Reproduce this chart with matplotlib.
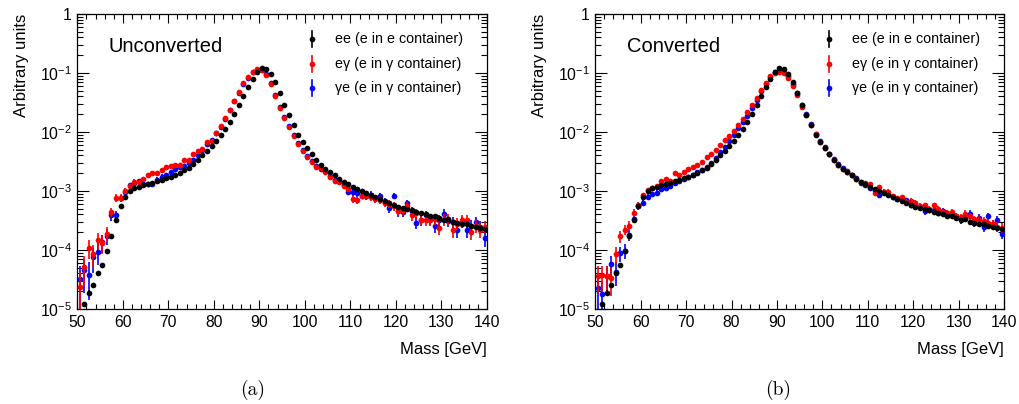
import numpy as np
import matplotlib
matplotlib.use("Agg")
import matplotlib.pyplot as plt
from matplotlib.ticker import FixedLocator, MultipleLocator, FuncFormatter, NullFormatter

plt.rcParams['font.family'] = ['Liberation Sans', 'DejaVu Sans']
plt.rcParams['mathtext.fontset'] = 'custom'
plt.rcParams['mathtext.rm'] = 'Liberation Sans'
plt.rcParams['mathtext.it'] = 'Liberation Sans:italic'
plt.rcParams['mathtext.bf'] = 'Liberation Sans:bold'

# 1 GeV bins from 50 to 140 GeV
bin_edges = np.arange(50, 141, 1)
mass = 0.5 * (bin_edges[:-1] + bin_edges[1:])

nan = np.nan

# ee reference sample (e in e container), identical in both panels
ee = [
    nan, 1.2e-5, 1.9e-5, 2.6e-5, 4.0e-5, 5.5e-5, 9.6e-5, 1.7e-4, 3.2e-4, 5.6e-4,
    7.8e-4, 1.0e-3, 1.12e-3, 1.18e-3, 1.24e-3, 1.3e-3, 1.35e-3, 1.45e-3, 1.55e-3, 1.65e-3,
    1.75e-3, 1.9e-3, 2.0e-3, 2.25e-3, 2.5e-3, 2.9e-3, 3.4e-3, 4.0e-3, 4.8e-3, 5.9e-3,
    7.0e-3, 8.8e-3, 1.13e-2, 1.48e-2, 2.05e-2, 2.9e-2, 4.1e-2, 5.8e-2, 8.0e-2, 0.106,
    0.123, 0.118, 0.097, 0.070, 0.045, 0.029, 0.0195, 0.0132, 9.0e-3, 6.9e-3,
    5.3e-3, 4.2e-3, 3.3e-3, 2.8e-3, 2.4e-3, 2.1e-3, 1.85e-3, 1.62e-3, 1.42e-3, 1.3e-3,
    1.18e-3, 1.08e-3, 1.0e-3, 9.2e-4, 8.6e-4, 8.0e-4, 7.3e-4, 6.8e-4, 6.2e-4, 5.7e-4,
    5.3e-4, 5.1e-4, 4.9e-4, 4.7e-4, 4.4e-4, 4.2e-4, 4.05e-4, 3.7e-4, 3.8e-4, 3.45e-4,
    3.2e-4, 3.3e-4, 3.0e-4, 2.9e-4, 2.8e-4, 2.75e-4, 2.6e-4, 2.5e-4, 2.35e-4, 2.3e-4,
]

# unconverted photon candidates
eg_unconv = [
    2.4e-5, 5.2e-5, 1.1e-4, 8.7e-5, 1.5e-4, 1.3e-4, 1.9e-4, 4.4e-4, 7.7e-4, 7.7e-4,
    1.0e-3, 1.2e-3, 1.44e-3, 1.4e-3, 1.58e-3, 1.85e-3, 2.0e-3, 2.0e-3, 2.3e-3, 2.6e-3,
    2.7e-3, 2.8e-3, 2.8e-3, 3.3e-3, 3.4e-3, 4.2e-3, 4.8e-3, 5.2e-3, 6.7e-3, 7.1e-3,
    9.8e-3, 1.25e-2, 1.7e-2, 2.4e-2, 3.4e-2, 4.7e-2, 6.7e-2, 8.4e-2, 0.105, 0.115,
    0.112, 0.094, 0.066, 0.041, 0.026, 0.017, 0.0123, 8.6e-3, 6.2e-3, 4.7e-3,
    3.8e-3, 3.1e-3, 2.6e-3, 2.45e-3, 2.1e-3, 1.75e-3, 1.5e-3, 1.42e-3, 1.2e-3, 1.1e-3,
    7.3e-4, 7.0e-4, 8.3e-4, 8.3e-4, 7.8e-4, 7.3e-4, 7.1e-4, 6.3e-4, 6.1e-4, 5.5e-4,
    4.6e-4, 4.7e-4, 5.5e-4, 3.9e-4, 4.2e-4, 3.2e-4, 3.2e-4, 3.2e-4, 3.4e-4, 2.4e-4,
    3.3e-4, 3.3e-4, 2.2e-4, 2.8e-4, 3.2e-4, 3.2e-4, 2.0e-4, 2.6e-4, 2.2e-4, 2.5e-4,
]
ge_unconv = [
    3.2e-5, 4.5e-5, 3.8e-5, 7.5e-5, 9.3e-5, 1.35e-4, 1.75e-4, 3.9e-4, 3.9e-4, 7.5e-4,
    9.5e-4, 1.25e-3, 1.35e-3, 1.45e-3, 1.3e-3, 1.3e-3, 1.3e-3, 1.55e-3, 1.75e-3, 1.85e-3,
    2.1e-3, 2.35e-3, 2.55e-3, 2.65e-3, 2.95e-3, 3.4e-3, 4.1e-3, 5.0e-3, 6.3e-3, 7.3e-3,
    9.5e-3, 1.22e-2, 1.65e-2, 2.35e-2, 3.3e-2, 4.6e-2, 6.5e-2, 8.2e-2, 0.104, 0.114,
    0.113, 0.097, 0.068, 0.043, 0.027, 0.018, 0.0128, 8.8e-3, 6.4e-3, 4.9e-3,
    3.9e-3, 3.2e-3, 2.7e-3, 2.4e-3, 2.15e-3, 1.8e-3, 1.55e-3, 1.45e-3, 1.25e-3, 9.8e-4,
    9.5e-4, 9.2e-4, 8.3e-4, 8.1e-4, 8.7e-4, 7.6e-4, 8.1e-4, 6.6e-4, 5.1e-4, 8.3e-4,
    4.5e-4, 4.4e-4, 6.2e-4, 4.5e-4, 2.9e-4, 3.2e-4, 3.9e-4, 3.4e-4, 2.6e-4, 3.2e-4,
    4.1e-4, 3.1e-4, 3.0e-4, 2.2e-4, 3.0e-4, 2.2e-4, 2.6e-4, 3.0e-4, 2.5e-4, 1.6e-4,
]

# converted photon candidates
eg_conv = [
    3.6e-5, 3.7e-5, 3.6e-5, 3.3e-5, 8.7e-5, 1.7e-4, 2.2e-4, 2.6e-4, 4.3e-4, 5.8e-4,
    8.5e-4, 1.02e-3, 1.12e-3, 1.2e-3, 1.5e-3, 1.6e-3, 1.5e-3, 2.0e-3, 1.9e-3, 2.1e-3,
    2.4e-3, 2.6e-3, 2.75e-3, 3.1e-3, 3.8e-3, 4.3e-3, 5.0e-3, 6.0e-3, 7.3e-3, 8.7e-3,
    1.04e-2, 1.3e-2, 1.66e-2, 2.2e-2, 2.9e-2, 3.8e-2, 5.2e-2, 6.8e-2, 8.8e-2, 0.100,
    0.104, 0.100, 0.082, 0.060, 0.043, 0.027, 0.0195, 0.0132, 9.1e-3, 6.8e-3,
    5.3e-3, 4.2e-3, 3.4e-3, 2.8e-3, 2.4e-3, 2.1e-3, 1.87e-3, 1.6e-3, 1.44e-3, 1.35e-3,
    1.3e-3, 9.4e-4, 1.15e-3, 9.5e-4, 9.8e-4, 8.2e-4, 7.6e-4, 7.9e-4, 6.6e-4, 6.9e-4,
    6.2e-4, 5.6e-4, 5.7e-4, 5.0e-4, 5.7e-4, 4.9e-4, 4.4e-4, 4.2e-4, 4.4e-4, 3.7e-4,
    3.6e-4, 4.1e-4, 3.7e-4, 3.3e-4, 3.2e-4, 3.1e-4, 2.9e-4, 2.8e-4, 2.5e-4, 2.4e-4,
]
ge_conv = [
    2.3e-5, 1.8e-5, 3.6e-5, 5.7e-5, 4.3e-5, 8.8e-5, 9.8e-5, 1.8e-4, 3.4e-4, 5.5e-4,
    6.3e-4, 8.0e-4, 8.8e-4, 9.4e-4, 1.1e-3, 1.12e-3, 1.2e-3, 1.35e-3, 1.5e-3, 1.6e-3,
    1.75e-3, 1.9e-3, 2.1e-3, 2.3e-3, 2.6e-3, 3.0e-3, 3.6e-3, 4.5e-3, 5.6e-3, 7.0e-3,
    9.0e-3, 1.15e-2, 1.45e-2, 1.9e-2, 2.6e-2, 3.5e-2, 4.9e-2, 6.6e-2, 8.6e-2, 0.103,
    0.108, 0.104, 0.090, 0.065, 0.045, 0.029, 0.0198, 0.0135, 9.4e-3, 7.1e-3,
    5.5e-3, 4.3e-3, 3.5e-3, 2.9e-3, 2.5e-3, 2.2e-3, 1.9e-3, 1.65e-3, 1.35e-3, 1.25e-3,
    1.12e-3, 1.05e-3, 8.6e-4, 9.8e-4, 8.8e-4, 8.0e-4, 7.4e-4, 7.1e-4, 7.0e-4, 5.8e-4,
    6.3e-4, 5.4e-4, 4.5e-4, 4.8e-4, 4.8e-4, 4.3e-4, 4.5e-4, 4.2e-4, 3.9e-4, 3.7e-4,
    3.3e-4, 3.5e-4, 4.1e-4, 2.9e-4, 3.5e-4, 2.5e-4, 3.7e-4, 2.8e-4, 3.2e-4, 1.9e-4,
]

# normalisation weight per event of each sample (sets the Poisson error bars)
w_ee = 1.5e-7
w_unconv = 1.5e-5
w_conv = 8.0e-6

series_labels = ["ee (e in e container)",
                 "e\u03b3 (e in \u03b3 container)",
                 "\u03b3e (e in \u03b3 container)"]
series_colors = ["#000000", "#ff0000", "#0000ff"]
panel_titles = ["Unconverted", "Converted"]
panel_tags = ["(a)", "(b)"]
xticks = [50, 60, 70, 80, 90, 100, 110, 120, 130, 140]
ydecades = [1e-5, 1e-4, 1e-3, 1e-2, 1e-1, 1]

W, H = 1020, 404
fig = plt.figure(figsize=(W / 100, H / 100), dpi=100)


def px_box(x0, x1, y0, y1):
    return [x0 / W, 1 - y1 / H, (x1 - x0) / W, (y1 - y0) / H]


axes = [fig.add_axes(px_box(77.3, 487.0, 14, 309)),
        fig.add_axes(px_box(595.3, 1004.0, 14, 309))]
tag_centres = [253, 778]


def poisson_bars(vals, w):
    v = np.asarray(vals, dtype=float)
    err = np.sqrt(v * w)
    lower = np.where(err >= v, v - 1e-9, err)
    return v, np.vstack([lower, err])


def ylabel_fmt(val, pos):
    if abs(val - 1) < 1e-9:
        return "1"
    return r"$\mathregular{10^{%d}}$" % int(round(np.log10(val)))


panel_data = [
    [(ee, w_ee), (eg_unconv, w_unconv), (ge_unconv, w_unconv)],
    [(ee, w_ee), (eg_conv, w_conv), (ge_conv, w_conv)],
]

MS = 4.1
ELW = 1.2

for ax, series, title, tag, tx in zip(axes, panel_data, panel_titles,
                                      panel_tags, tag_centres):
    # draw blue first, black on top
    for idx in [2, 1, 0]:
        vals, w = series[idx]
        v, yerr = poisson_bars(vals, w)
        ax.errorbar(mass, v, yerr=yerr, fmt='o', color=series_colors[idx],
                    ecolor=series_colors[idx], markersize=MS, elinewidth=ELW,
                    capsize=0, markeredgewidth=0, zorder=3 + (2 - idx))

    ax.set_yscale('log')
    ax.set_xlim(50, 140)
    ax.set_ylim(1e-5, 1)
    ax.xaxis.set_major_locator(FixedLocator(xticks))
    ax.xaxis.set_minor_locator(MultipleLocator(2))
    ax.yaxis.set_major_locator(FixedLocator(ydecades))
    minors = [m * 10.0 ** e for e in range(-5, 0) for m in range(2, 10)]
    ax.yaxis.set_minor_locator(FixedLocator(minors))
    ax.yaxis.set_major_formatter(FuncFormatter(ylabel_fmt))
    ax.yaxis.set_minor_formatter(NullFormatter())
    ax.tick_params(which='both', direction='in', top=True, right=True,
                   labelsize=11.3, width=0.8)
    ax.tick_params(axis='x', which='major', length=6.5, pad=4)
    ax.tick_params(axis='x', which='minor', length=3.3)
    ax.tick_params(axis='y', which='major', length=8.5, pad=4)
    ax.tick_params(axis='y', which='minor', length=4.3)
    for sp in ax.spines.values():
        sp.set_linewidth(0.9)

    ax.text(0.077, 0.872, title, transform=ax.transAxes, fontsize=14.5,
            ha='left', va='baseline')

    # legend: marker with vertical error bar, then label
    for k, (lab, col) in enumerate(zip(series_labels, series_colors)):
        yk = 0.914 - 0.083 * k
        ax.plot([0.573, 0.573], [yk - 0.027, yk + 0.027], color=col, lw=ELW,
                transform=ax.transAxes)
        ax.plot([0.573], [yk], 'o', color=col, markersize=MS,
                markeredgewidth=0, transform=ax.transAxes)
        ax.text(0.628, yk, lab, transform=ax.transAxes, fontsize=10.3,
                ha='left', va='center')

    ax.set_xlabel("Mass [GeV]", fontsize=12, loc='right')
    ax.xaxis.set_label_coords(1.0, -0.112)
    ax.set_ylabel("Arbitrary units", fontsize=12, loc='top')
    ax.yaxis.set_label_coords(-0.118, 1.0)

    fig.text(tx / W, 1 - 390 / H, tag, fontsize=14, family='cmr10',
             ha='center', va='center')

fig.savefig("out.png", dpi=100)
